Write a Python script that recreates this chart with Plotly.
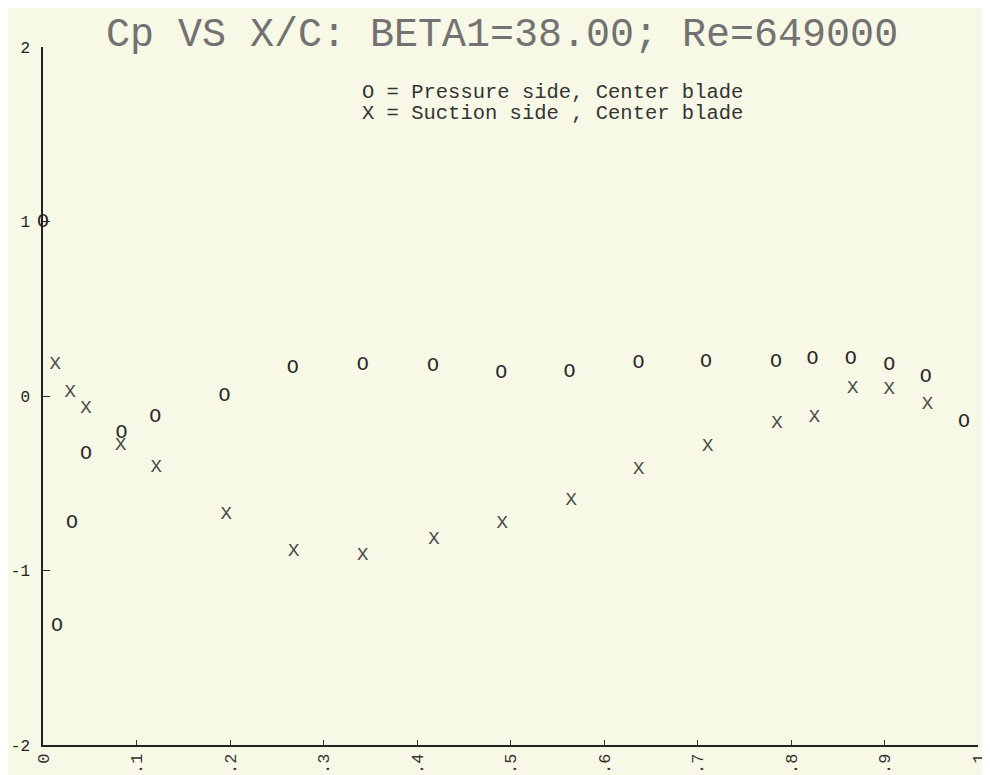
import plotly.graph_objects as go

# ---- data ----
title_text = "Cp VS X/C: BETA1=38.00; Re=649000"
legend_lines = ["O = Pressure side, Center blade", "X = Suction side , Center blade"]

press_x = [0.0, 0.015, 0.031, 0.046, 0.084, 0.12, 0.194, 0.267, 0.342, 0.417,
           0.49, 0.563, 0.637, 0.709, 0.784, 0.823, 0.864, 0.905, 0.944, 0.985]
press_cp = [1.0, -1.32, -0.73, -0.33, -0.21, -0.12, 0.0, 0.16, 0.18, 0.17,
            0.13, 0.14, 0.19, 0.195, 0.195, 0.21, 0.21, 0.18, 0.11, -0.15]

suct_x = [0.013, 0.029, 0.046, 0.083, 0.121, 0.196, 0.268, 0.342, 0.418,
          0.491, 0.565, 0.637, 0.711, 0.785, 0.825, 0.866, 0.905, 0.946]
suct_cp = [0.18, 0.02, -0.07, -0.28, -0.41, -0.68, -0.89, -0.91, -0.82,
           -0.73, -0.60, -0.42, -0.29, -0.155, -0.12, 0.045, 0.04, -0.045]

x_tickvals = [0, 0.1, 0.2, 0.3, 0.4, 0.5, 0.6, 0.7, 0.8, 0.9, 1.0]
x_ticktext = ["0", ".1", ".2", ".3", ".4", ".5", ".6", ".7", ".8", ".9", "1"]
y_tickvals = [-2, -1, 0, 1, 2]
y_ticktext = ["-2", "-1", "0", "1", "2"]

BG = "#f8f8e6"
MONO = "Liberation Mono, DejaVu Sans Mono, monospace"

fig = go.Figure()
fig.add_trace(go.Scatter(
    x=press_x, y=press_cp, mode="text", text=["O"] * len(press_x),
    textposition="middle center",
    textfont=dict(family=MONO, size=20, color="#2a2a2a"),
    cliponaxis=False, name="Pressure side"))
fig.add_trace(go.Scatter(
    x=suct_x, y=suct_cp, mode="text", text=["X"] * len(suct_x),
    textposition="middle center",
    textfont=dict(family=MONO, size=19, color="#4a4a4a"),
    cliponaxis=False, name="Suction side"))

fig.add_annotation(text=title_text, xref="paper", yref="paper",
                   x=0.491, y=1.0158, xanchor="center", yanchor="middle",
                   showarrow=False,
                   font=dict(family=MONO, size=40, color="#727272"))
fig.add_annotation(text=legend_lines[0], xref="paper", yref="paper",
                   x=0.339, y=0.9355, xanchor="left", yanchor="middle",
                   showarrow=False, font=dict(family=MONO, size=20.5, color="#333333"))
fig.add_annotation(text=legend_lines[1], xref="paper", yref="paper",
                   x=0.339, y=0.9054, xanchor="left", yanchor="middle",
                   showarrow=False, font=dict(family=MONO, size=20.5, color="#333333"))

# the page body adds an 8 px offset, so the figure is 8 px smaller
fig.update_layout(
    width=982, height=767,
    margin=dict(l=35, r=12, t=39, b=30, pad=0),
    paper_bgcolor=BG, plot_bgcolor=BG,
    showlegend=False,
    xaxis=dict(range=[0, 1], tickvals=x_tickvals, ticktext=x_ticktext,
               tickangle=-90, ticks="inside", ticklen=5, tickcolor="#333",
               showline=True, linecolor="#222", linewidth=1.5,
               showgrid=False, zeroline=False, mirror=False,
               automargin=False, ticklabeloverflow="allow",
               ticklabelstandoff=0,
               tickfont=dict(family=MONO, size=17, color="#333")),
    yaxis=dict(range=[-2, 2], tickvals=y_tickvals, ticktext=y_ticktext,
               ticks="inside", ticklen=7, tickcolor="#222",
               showline=True, linecolor="#222", linewidth=1.5,
               showgrid=False, zeroline=False, mirror=False,
               automargin=False, ticklabeloverflow="allow",
               ticklabelstandoff=8,
               tickfont=dict(family=MONO, size=16, color="#222")),
)

fig.write_html("out.html")
